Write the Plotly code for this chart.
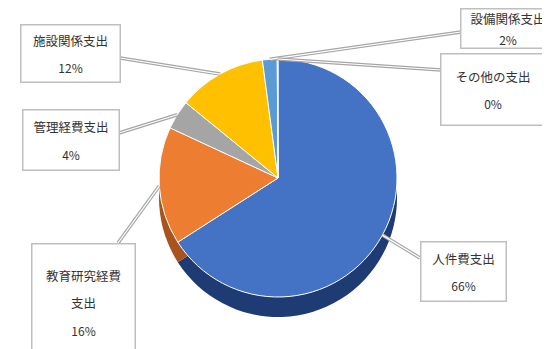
import math
import plotly.graph_objects as go

# ---- data ----
categories = ["人件費支出", "教育研究経費支出", "管理経費支出", "施設関係支出", "設備関係支出", "その他の支出"]
values = [66, 16, 4, 12, 2, 0.1]
pct_labels = ["66%", "16%", "4%", "12%", "2%", "0%"]
box_lines = [["人件費支出"], ["教育研究経費", "支出"], ["管理経費支出"], ["施設関係支出"], ["設備関係支出"], ["その他の支出"]]

# ---- styles ----
top_colors = ["#4472C4", "#ED7D31", "#A5A5A5", "#FFC000", "#5B9BD5", "#70AD47"]
side_colors = ["#1F3B73", "#A9541E", "#6E6E6E", "#B38600", "#3A6B98", "#4A7A2E"]

W, H = 550, 349
cx, cy, r = 270, 170, 119   # pixel centre/radius of pie top face
depth = 20

# label boxes: centre x, centre y, width, height (pixels from top-left)
boxes = [
    (455, 263, 86, 60),
    (75, 294, 104, 118),
    (63, 132, 97, 61),
    (62, 46, 100, 58),
    (500, 21, 95, 40),
    (485, 81, 105, 72),
]
# attachment point on box edge (pixels)
attach = [
    (412, 250),
    (110, 235),
    (111, 125),
    (112, 50),
    (453, 24),
    (433, 62),
]

def px(x):
    return x / W

def py(y):
    return 1 - y / H

fig = go.Figure()

def dom(yc):
    return dict(x=[px(cx - r), px(cx + r)], y=[py(yc + r), py(yc - r)])

fig.add_trace(go.Pie(
    labels=categories, values=values, sort=False, direction="clockwise", rotation=0,
    marker=dict(colors=side_colors, line=dict(color=side_colors, width=0)),
    textinfo="none", hoverinfo="skip", showlegend=False, domain=dom(cy + depth),
))
fig.add_trace(go.Pie(
    labels=categories, values=values, sort=False, direction="clockwise", rotation=0,
    marker=dict(colors=top_colors, line=dict(color="white", width=1)),
    textinfo="none", showlegend=False, domain=dom(cy),
))

# callout lines, computed from slice mid-angles
total = sum(values)
cum = 0
shapes = []
for i, v in enumerate(values):
    mid = (cum + v / 2) / total * 2 * math.pi
    cum += v
    tx = cx + r * math.sin(mid)
    ty = cy - r * math.cos(mid)
    ax_, ay_ = attach[i]
    for col, wd in (("#A6A6A6", 3.5), ("white", 1.2)):
        shapes.append(dict(type="line", xref="paper", yref="paper",
                           x0=px(ax_), y0=py(ay_), x1=px(tx), y1=py(ty),
                           line=dict(color=col, width=wd), layer="above"))

annotations = []
for i, (bx, by, bw, bh) in enumerate(boxes):
    parts = ["<span style='font-size:12.5px'>" + s + "</span>" for s in box_lines[i]]
    parts.append("<span style='font-size:12px'>" + pct_labels[i] + "</span>")
    txt = "<br><br>".join(parts)
    annotations.append(dict(
        x=px(bx), y=py(by), xref="paper", yref="paper", xanchor="center", yanchor="middle",
        text=txt, showarrow=False, width=bw - 4, height=bh - 4, align="center", valign="middle",
        bgcolor="white", bordercolor="#BFBFBF", borderwidth=1.5, borderpad=1,
        font=dict(family="Noto Sans CJK JP", size=10.4 if i != 4 else 8, color="#333333"),
    ))

fig.update_layout(
    width=W, height=H, margin=dict(l=0, r=0, t=0, b=0),
    paper_bgcolor="white", plot_bgcolor="white",
    shapes=shapes, annotations=annotations,
)

fig.write_html("out.html")
